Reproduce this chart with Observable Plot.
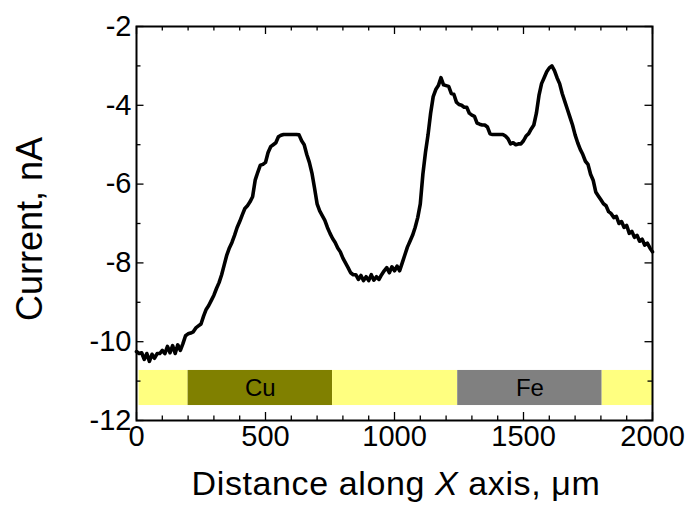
<!DOCTYPE html>
<html>
<head>
<meta charset="utf-8">
<script src="https://cdn.jsdelivr.net/npm/d3@7"></script>
<script src="https://cdn.jsdelivr.net/npm/@observablehq/plot@0.6"></script>
<style>
  html, body { margin: 0; padding: 0; background: #fff; }
  #chart svg { display: block; }
</style>
</head>
<body>
<div id="chart"></div>
<script>
// ---- data ----
const xStart = 0, xStep = 10;
const current = [
  -10.25, -10.30, -10.28, -10.45, -10.30, -10.50, -10.32, -10.42, -10.30, -10.30,
  -10.22, -10.30, -10.12, -10.28, -10.10, -10.30, -10.08, -10.22, -10.05, -9.85,
  -9.80, -9.78, -9.75, -9.65, -9.60, -9.55, -9.35, -9.18, -9.08, -8.95,
  -8.82, -8.65, -8.50, -8.30, -8.05, -7.80, -7.62, -7.48, -7.30, -7.10,
  -6.95, -6.78, -6.62, -6.55, -6.45, -6.32, -5.90, -5.70, -5.52, -5.50,
  -5.45, -5.20, -5.05, -5.00, -4.95, -4.80, -4.76, -4.74, -4.74, -4.74,
  -4.74, -4.74, -4.74, -4.75, -4.90, -5.00, -5.25, -5.45, -5.72, -6.10,
  -6.50, -6.68, -6.80, -6.92, -7.10, -7.25, -7.38, -7.48, -7.62, -7.72,
  -7.88, -8.00, -8.12, -8.25, -8.30, -8.30, -8.42, -8.32, -8.45, -8.35,
  -8.45, -8.30, -8.44, -8.35, -8.42, -8.30, -8.20, -8.12, -8.25, -8.10,
  -8.20, -8.08, -8.20, -8.00, -7.80, -7.60, -7.45, -7.30, -7.10, -6.85,
  -6.50, -5.75, -5.20, -4.75, -4.20, -3.78, -3.60, -3.50, -3.30, -3.48,
  -3.50, -3.52, -3.70, -3.72, -3.92, -3.98, -4.00, -4.05, -4.05, -4.20,
  -4.25, -4.28, -4.45, -4.48, -4.50, -4.50, -4.55, -4.72, -4.74, -4.74,
  -4.74, -4.74, -4.74, -4.78, -4.85, -4.98, -4.95, -5.00, -4.98, -4.98,
  -4.90, -4.78, -4.72, -4.60, -4.50, -4.20, -3.75, -3.45, -3.30, -3.15,
  -3.05, -3.00, -3.12, -3.30, -3.45, -3.70, -3.90, -4.10, -4.30, -4.50,
  -4.75, -4.95, -5.12, -5.25, -5.42, -5.50, -5.75, -5.90, -6.20, -6.30,
  -6.40, -6.50, -6.55, -6.70, -6.75, -6.85, -6.82, -7.00, -6.95, -7.10,
  -7.05, -7.25, -7.20, -7.35, -7.30, -7.45, -7.40, -7.55, -7.50, -7.62,
  -7.72
];
const distance = current.map((_, i) => xStart + i * xStep);

const bandStart = [10, 200, 760, 1245, 1805];
const bandEnd   = [200, 760, 1245, 1805, 2000];
const bandKind  = ["none", "Cu", "none", "Fe", "none"];
const bandTop = -10.73, bandBottom = -11.62;

const xTicks = [0, 500, 1000, 1500, 2000];
const xMinorTicks = [100, 200, 300, 400, 600, 700, 800, 900, 1100, 1200, 1300, 1400, 1600, 1700, 1800, 1900];
const yTicks = [-12, -10, -8, -6, -4, -2];
const yMinorTicks = [-11, -9, -7, -5, -3];

const xLabel = ["Distance along ", "X", " axis, \u03bcm"];
const yLabel = "Current, nA";

// ---- build ----
const series = distance.map((d, i) => ({x: d, y: current[i]}));
const bands = bandStart.map((s, i) => ({x1: s, x2: bandEnd[i], kind: bandKind[i]}));
const bandColor = {none: "#ffff80", Cu: "#808000", Fe: "#808080"};

const W = 687, H = 506;
const mL = 136, mR = 35, mT = 26, mB = 86;
const pxPerY = (H - mT - mB) / 10;     // pixels per y unit
const pxPerX = (W - mL - mR) / 2000;   // pixels per x unit
const yLen = px => px / pxPerY;
const xLen = px => px / pxPerX;

const font = "'Liberation Sans', Arial, sans-serif";

const chart = Plot.plot({
  width: W,
  height: H,
  marginLeft: mL,
  marginRight: mR,
  marginTop: mT,
  marginBottom: mB,
  style: {fontFamily: font, background: "#fff", color: "#000"},
  x: {domain: [0, 2000]},
  y: {domain: [-12, -2]},
  marks: [
    Plot.rect(bands, {x1: "x1", x2: "x2", y1: bandBottom, y2: bandTop, fill: d => bandColor[d.kind]}),
    Plot.text(bands.filter(d => d.kind !== "none"), {
      x: d => (d.x1 + d.x2) / 2, y: (bandTop + bandBottom) / 2,
      text: "kind", fontSize: 24, fill: "#000"
    }),
    Plot.line(series, {x: "x", y: "y", stroke: "#000", strokeWidth: 3.6, strokeLinejoin: "round"}),
    // inward ticks: bottom / top
    Plot.ruleX(xTicks, {x: d => d, y1: -12, y2: -12 + yLen(8), stroke: "#000", strokeWidth: 1.3}),
    Plot.ruleX(xMinorTicks, {x: d => d, y1: -12, y2: -12 + yLen(4.5), stroke: "#000", strokeWidth: 1.3}),
    Plot.ruleX(xTicks, {x: d => d, y1: -2, y2: -2 - yLen(8), stroke: "#000", strokeWidth: 1.3}),
    Plot.ruleX(xMinorTicks, {x: d => d, y1: -2, y2: -2 - yLen(4.5), stroke: "#000", strokeWidth: 1.3}),
    // inward ticks: left / right
    Plot.ruleY(yTicks, {y: d => d, x1: 0, x2: xLen(7.5), stroke: "#000", strokeWidth: 1.3}),
    Plot.ruleY(yMinorTicks, {y: d => d, x1: 0, x2: xLen(4.5), stroke: "#000", strokeWidth: 1.3}),
    Plot.ruleY(yTicks, {y: d => d, x1: 2000, x2: 2000 - xLen(7.5), stroke: "#000", strokeWidth: 1.3}),
    Plot.ruleY(yMinorTicks, {y: d => d, x1: 2000, x2: 2000 - xLen(4.5), stroke: "#000", strokeWidth: 1.3}),
    Plot.frame({stroke: "#000", strokeWidth: 2}),
    Plot.axisX({ticks: xTicks, tickSize: 0, tickPadding: 5, fontSize: 29, label: null, tickFormat: d => String(d)}),
    Plot.axisY({ticks: yTicks, tickSize: 0, tickPadding: 5, fontSize: 29, label: null, tickFormat: d => String(d)})
  ]
});

document.getElementById("chart").appendChild(chart);

const svg = d3.select(chart);

// y-axis title
svg.append("text")
  .attr("transform", "translate(42,229) rotate(-90)")
  .attr("text-anchor", "middle")
  .attr("font-family", font)
  .attr("font-size", 36)
  .attr("fill", "#000")
  .text(yLabel);

// x-axis title with italic "X"
const t = svg.append("text")
  .attr("x", 396)
  .attr("y", 495)
  .attr("text-anchor", "middle")
  .attr("font-family", font)
  .attr("font-size", 34)
  .attr("letter-spacing", "0.6px")
  .attr("fill", "#000");
t.append("tspan").text(xLabel[0]);
t.append("tspan").attr("font-style", "italic").text(xLabel[1]);
t.append("tspan").text(xLabel[2]);
</script>
</body>
</html>
